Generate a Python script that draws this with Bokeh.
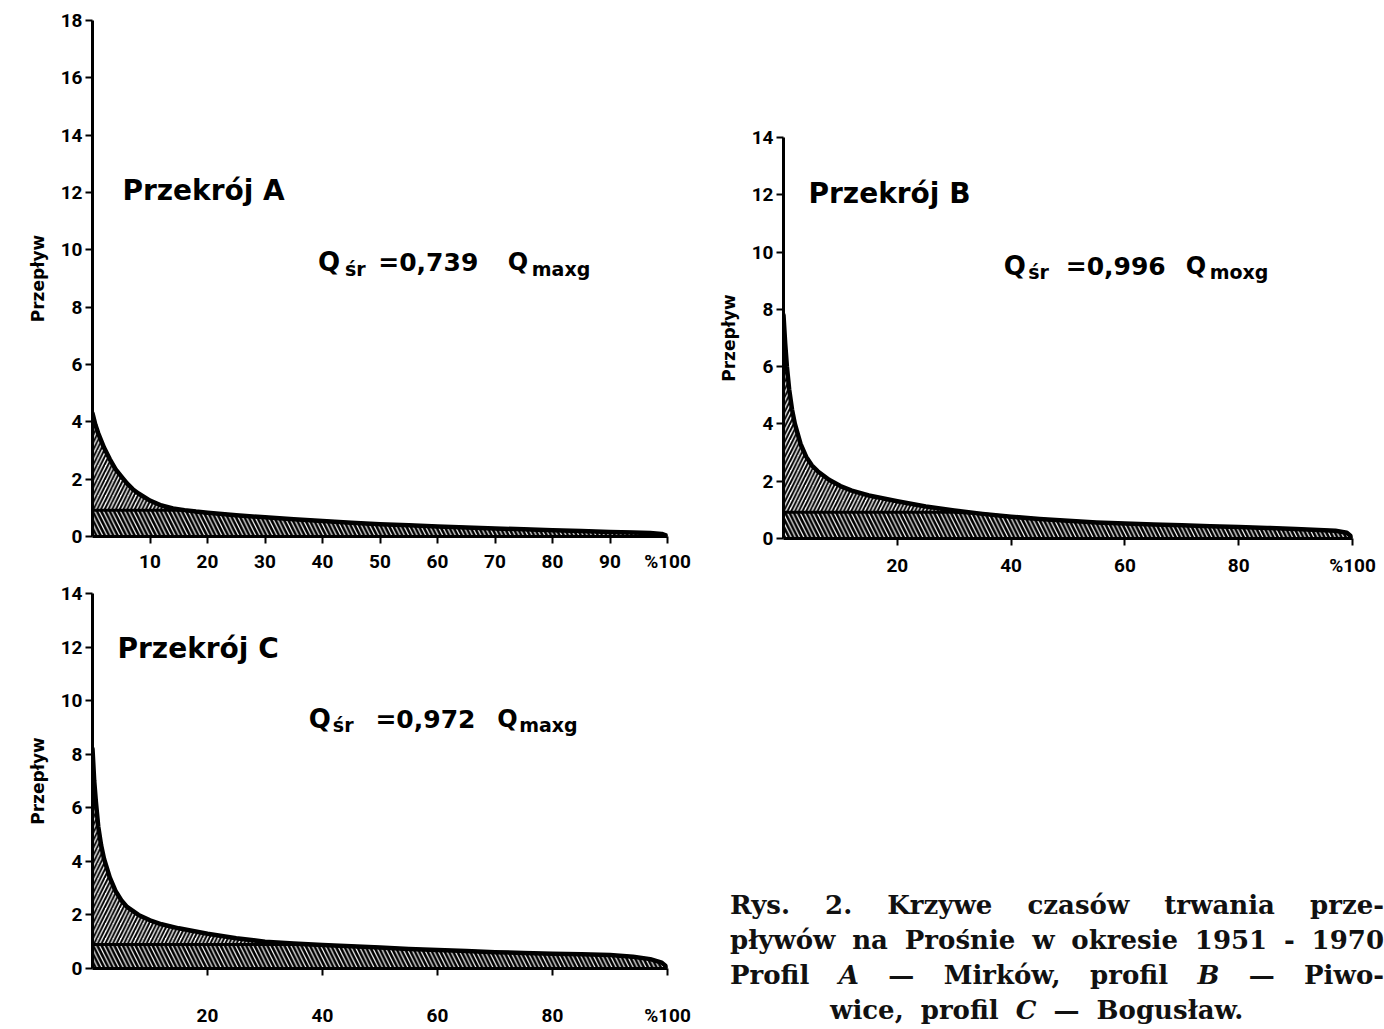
import numpy as np
from bokeh.plotting import figure
from bokeh.models import Range1d, FixedTicker, Label, Div, Spacer
from bokeh.layouts import row, column
from bokeh.embed import file_html
from bokeh.resources import INLINE

# ---- data ----
pct_a = [0, 0.5, 1, 2, 3, 4, 5, 6, 7, 8, 10, 12, 14, 16, 18, 20, 25, 30, 35, 40,
         45, 50, 55, 60, 65, 70, 75, 80, 85, 90, 94, 97, 99, 100]
flow_a = [4.3, 3.9, 3.6, 3.1, 2.7, 2.35, 2.1, 1.85, 1.65, 1.5, 1.25, 1.08, 0.98, 0.92,
          0.87, 0.83, 0.74, 0.67, 0.6, 0.54, 0.48, 0.43, 0.39, 0.35, 0.31, 0.28, 0.25,
          0.22, 0.19, 0.16, 0.14, 0.12, 0.09, 0.02]
mean_a = 0.92

pct_bc = [0, 0.3, 0.6, 1, 1.5, 2, 3, 4, 5, 6, 8, 10, 12, 15, 20, 25, 30, 35, 40, 45,
          50, 55, 60, 65, 70, 75, 80, 85, 90, 94, 97, 99, 100]
flow_b = [7.8, 6.8, 6.0, 5.2, 4.5, 4.0, 3.3, 2.85, 2.55, 2.35, 2.05, 1.83, 1.67, 1.5,
          1.3, 1.12, 0.98, 0.86, 0.76, 0.68, 0.62, 0.56, 0.52, 0.49, 0.46, 0.43, 0.4,
          0.37, 0.33, 0.3, 0.27, 0.2, 0.03]
mean_b = 0.92
flow_c = [8.2, 7.0, 6.2, 5.3, 4.6, 4.1, 3.4, 2.9, 2.55, 2.3, 2.0, 1.8, 1.65, 1.5, 1.3,
          1.13, 1.0, 0.93, 0.88, 0.83, 0.78, 0.73, 0.69, 0.65, 0.61, 0.58, 0.55, 0.53,
          0.5, 0.44, 0.35, 0.22, 0.04]
mean_c = 0.9

xticks_a = [10, 20, 30, 40, 50, 60, 70, 80, 90, 100]
xticks_bc = [20, 40, 60, 80, 100]
yticks_a = [0, 2, 4, 6, 8, 10, 12, 14, 16, 18]
yticks_bc = [0, 2, 4, 6, 8, 10, 12, 14]
y_label = "Przepływ"
titles = ["Przekrój A", "Przekrój B", "Przekrój C"]
coef = ["=0,739", "=0,996", "=0,972"]
qmax_sub = ["maxg", "moxg", "maxg"]
caption_lines = [
    "Rys. 2. Krzywe czasów trwania prze-",
    "pływów na Prośnie w okresie 1951 - 1970",
    "Profil <i>A</i> — Mirków, profil <i>B</i> — Piwo-",
    "wice, profil <i>C</i> — Bogusław.",
]

FONT = "DejaVu Sans"
TICK_FONT = "Roboto"


def make_fig(w, h, ml, mr, mt, mb, ymax, xticks, yticks, x_standoff):
    p = figure(width=w, height=h, x_range=Range1d(0, 100), y_range=Range1d(0, ymax),
               output_backend="svg", toolbar_location=None,
               min_border_left=ml, min_border_right=mr, min_border_top=mt,
               min_border_bottom=mb, background_fill_color="white",
               border_fill_color="white")
    p.grid.visible = False
    p.outline_line_color = None
    for ax in (p.xaxis[0], p.yaxis[0]):
        ax.axis_line_width = 3
        ax.axis_line_color = "black"
        ax.major_tick_line_width = 2
        ax.major_tick_line_color = "black"
        ax.major_tick_in = 0
        ax.major_tick_out = 7
        ax.minor_tick_out = 0
        ax.minor_tick_in = 0
        ax.major_label_text_font = TICK_FONT
        ax.major_label_text_font_style = "bold"
        ax.major_label_text_font_size = "19px"
        ax.major_label_text_color = "black"
    p.xaxis.ticker = FixedTicker(ticks=xticks)
    p.xaxis.major_label_overrides = {100: "%100"}
    p.xaxis.major_label_standoff = x_standoff
    p.yaxis.ticker = FixedTicker(ticks=yticks)
    p.yaxis.major_label_standoff = 3
    p.yaxis.axis_label = y_label
    p.yaxis.axis_label_text_font = FONT
    p.yaxis.axis_label_text_font_style = "bold"
    p.yaxis.axis_label_text_font_size = "17px"
    p.yaxis.axis_label_text_color = "black"
    p.yaxis.axis_label_standoff = 10
    return p


def draw_curve(p, x, y, mean):
    x = np.asarray(x, dtype=float)
    y = np.asarray(y, dtype=float)
    lower = np.minimum(y, mean)
    upper = np.maximum(y, mean)
    p.varea(x=x, y1=0, y2=lower, fill_color="white", hatch_pattern="\\",
            hatch_color="black", hatch_weight=2.6, hatch_scale=8.5)
    p.varea(x=x, y1=mean, y2=upper, fill_color="white", hatch_pattern="/",
            hatch_color="black", hatch_weight=2.0, hatch_scale=7.5)
    p.line(x, lower, line_width=3, color="black")
    p.line(x, y, line_width=4.5, color="black", line_join="round", line_cap="round")


def add_label(p, x, y, text, size):
    p.add_layout(Label(x=x, y=y, text=text, text_font=FONT, text_font_style="bold",
                       text_font_size=f"{size}px", text_baseline="middle",
                       text_color="black"))


def texts(p, title_xy, q_x, q_y, sub_x, eq_x, q2_x, sub2_x, sub_dy, idx):
    add_label(p, title_xy[0], title_xy[1], titles[idx], 28)
    add_label(p, q_x, q_y, "Q", 26)
    add_label(p, sub_x, q_y - sub_dy, "śr", 19)
    add_label(p, eq_x, q_y, coef[idx], 25)
    add_label(p, q2_x, q_y, "Q", 24)
    add_label(p, sub2_x, q_y - sub_dy, qmax_sub[idx], 19)


# Chart A  (frame: x 92..668 px, y 20..536 px)
pA = make_fig(700, 578, 92, 32, 20, 42, 18, xticks_a, yticks_a, 6)
draw_curve(pA, pct_a, flow_a, mean_a)
texts(pA, (5.2, 12.07), 39.2, 9.56, 43.9, 49.7, 72.2, 76.4, 0.22, 0)

# Chart B  (frame: x 783..1352 px, y 137..538 px)
pB = make_fig(682, 482, 83, 30, 27, 54, 14, xticks_bc, yticks_bc, 8)
draw_curve(pB, pct_bc, flow_b, mean_b)
texts(pB, (4.4, 12.05), 38.7, 9.5, 43.0, 49.6, 70.7, 74.9, 0.2, 1)

# Chart C  (frame: x 92..667 px, y 593..968 px)
pC = make_fig(700, 451, 92, 33, 15, 61, 14, xticks_bc, yticks_bc, 28)
draw_curve(pC, pct_bc, flow_c, mean_c)
texts(pC, (4.35, 11.94), 37.6, 9.31, 41.8, 49.2, 70.4, 74.2, 0.22, 2)

line_style = ("width:654px;white-space:nowrap;text-align:justify;"
              "text-align-last:justify;")
html = ("<div style=\"padding-left:30px;font-family:'DejaVu Serif';font-weight:bold;"
        "font-size:26px;line-height:35px;color:#111;\">")
for i, ln in enumerate(caption_lines):
    if i < 3:
        html += f"<div style='{line_style}'>{ln}</div>"
    else:
        html += f"<div style='padding-left:100px;white-space:nowrap;word-spacing:8px'>{ln}</div>"
html += "</div>"

caption = Div(text=html, width=684, height=141, margin=0, styles={"overflow": "hidden"})

left = column(pA, pC, spacing=0)
right = column(Spacer(width=10, height=110, margin=0), pB,
               Spacer(width=10, height=296, margin=0), caption, spacing=0)
layout = row(left, right, spacing=0)

with open("out.html", "w") as f:
    f.write(file_html(layout, INLINE))
